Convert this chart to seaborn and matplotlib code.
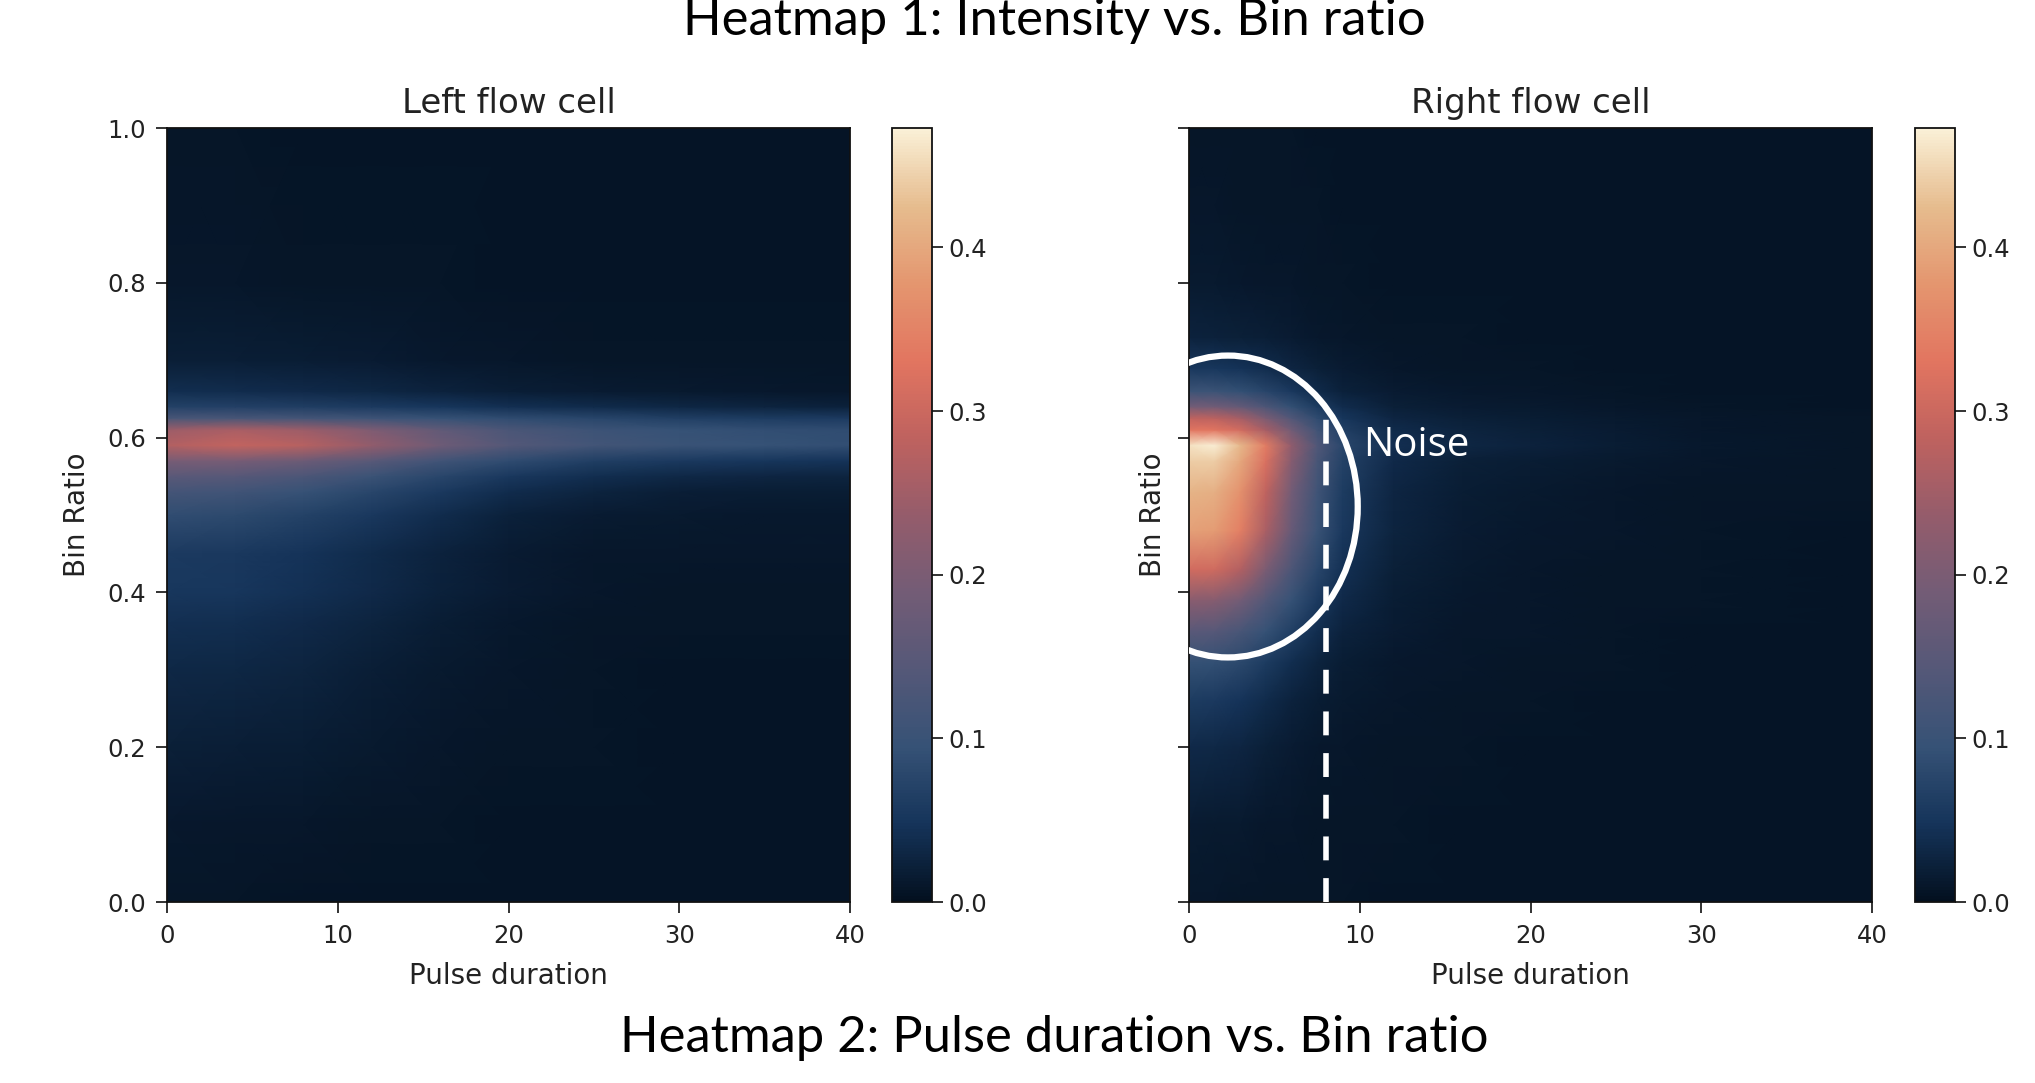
import numpy as np
import matplotlib
matplotlib.use("Agg")
import matplotlib.pyplot as plt
from matplotlib.patches import Ellipse
import seaborn as sns

# ---------------- data ----------------
# Left flow cell: pulse-duration grid (x) and bin-ratio grid (y)
left_x = [0, 4, 8, 12, 16, 20, 25, 30, 35, 40]
left_y = [0.0, 0.1, 0.2, 0.3, 0.36, 0.4, 0.45, 0.5, 0.53, 0.55, 0.57,
          0.59, 0.61, 0.625, 0.64, 0.66, 0.7, 0.8, 1.0]
left_z = [
    [0.008, 0.008, 0.007, 0.007, 0.006, 0.006, 0.006, 0.006, 0.006, 0.006],
    [0.012, 0.011, 0.010, 0.009, 0.008, 0.007, 0.007, 0.006, 0.006, 0.006],
    [0.022, 0.020, 0.017, 0.014, 0.011, 0.009, 0.008, 0.007, 0.007, 0.007],
    [0.032, 0.030, 0.026, 0.020, 0.014, 0.010, 0.008, 0.007, 0.007, 0.007],
    [0.042, 0.040, 0.034, 0.026, 0.018, 0.012, 0.009, 0.008, 0.008, 0.008],
    [0.052, 0.050, 0.044, 0.034, 0.023, 0.015, 0.010, 0.009, 0.009, 0.009],
    [0.058, 0.055, 0.047, 0.036, 0.025, 0.016, 0.011, 0.010, 0.010, 0.010],
    [0.088, 0.083, 0.070, 0.054, 0.037, 0.024, 0.016, 0.013, 0.012, 0.012],
    [0.118, 0.112, 0.097, 0.077, 0.056, 0.038, 0.026, 0.020, 0.018, 0.018],
    [0.150, 0.145, 0.128, 0.102, 0.076, 0.055, 0.040, 0.032, 0.028, 0.026],
    [0.195, 0.195, 0.178, 0.148, 0.112, 0.086, 0.066, 0.056, 0.050, 0.048],
    [0.270, 0.290, 0.275, 0.232, 0.182, 0.142, 0.116, 0.100, 0.095, 0.090],
    [0.245, 0.260, 0.245, 0.205, 0.162, 0.127, 0.106, 0.095, 0.090, 0.085],
    [0.125, 0.125, 0.118, 0.108, 0.097, 0.086, 0.076, 0.066, 0.060, 0.058],
    [0.070, 0.068, 0.064, 0.058, 0.050, 0.042, 0.036, 0.030, 0.026, 0.024],
    [0.040, 0.038, 0.035, 0.030, 0.025, 0.020, 0.016, 0.013, 0.012, 0.011],
    [0.020, 0.019, 0.017, 0.015, 0.012, 0.010, 0.009, 0.008, 0.008, 0.008],
    [0.010, 0.010, 0.009, 0.008, 0.008, 0.007, 0.007, 0.006, 0.006, 0.006],
    [0.008, 0.008, 0.007, 0.007, 0.006, 0.006, 0.006, 0.006, 0.006, 0.006],
]

# Right flow cell
right_x = [0, 1.5, 3, 4.5, 6, 7.5, 9, 12, 16, 20, 25, 30, 40]
right_y = [0.0, 0.1, 0.2, 0.26, 0.31, 0.35, 0.39, 0.43, 0.48, 0.53, 0.57,
           0.59, 0.61, 0.625, 0.64, 0.66, 0.69, 0.73, 0.8, 0.9, 1.0]
right_z = [
    [0.010, 0.010, 0.009, 0.009, 0.008, 0.008, 0.008, 0.007, 0.007, 0.007, 0.006, 0.006, 0.006],
    [0.015, 0.014, 0.013, 0.011, 0.010, 0.009, 0.008, 0.008, 0.007, 0.007, 0.006, 0.006, 0.006],
    [0.035, 0.033, 0.028, 0.022, 0.016, 0.012, 0.010, 0.009, 0.008, 0.007, 0.007, 0.006, 0.006],
    [0.060, 0.057, 0.048, 0.036, 0.025, 0.017, 0.013, 0.010, 0.009, 0.008, 0.007, 0.007, 0.006],
    [0.095, 0.092, 0.080, 0.060, 0.040, 0.026, 0.018, 0.012, 0.010, 0.009, 0.008, 0.007, 0.007],
    [0.150, 0.145, 0.125, 0.095, 0.065, 0.040, 0.025, 0.015, 0.011, 0.010, 0.008, 0.007, 0.007],
    [0.220, 0.215, 0.190, 0.140, 0.095, 0.058, 0.034, 0.018, 0.012, 0.010, 0.009, 0.008, 0.007],
    [0.310, 0.305, 0.270, 0.200, 0.130, 0.078, 0.044, 0.022, 0.014, 0.011, 0.009, 0.008, 0.007],
    [0.390, 0.385, 0.345, 0.260, 0.170, 0.100, 0.055, 0.026, 0.016, 0.012, 0.010, 0.008, 0.007],
    [0.415, 0.410, 0.370, 0.285, 0.190, 0.110, 0.060, 0.028, 0.017, 0.013, 0.010, 0.009, 0.008],
    [0.440, 0.440, 0.400, 0.320, 0.215, 0.125, 0.070, 0.034, 0.022, 0.017, 0.013, 0.010, 0.008],
    [0.460, 0.470, 0.420, 0.340, 0.230, 0.135, 0.078, 0.042, 0.030, 0.025, 0.018, 0.012, 0.009],
    [0.330, 0.330, 0.310, 0.255, 0.185, 0.112, 0.066, 0.036, 0.026, 0.022, 0.016, 0.011, 0.008],
    [0.285, 0.280, 0.255, 0.200, 0.138, 0.085, 0.050, 0.029, 0.021, 0.017, 0.013, 0.010, 0.008],
    [0.190, 0.185, 0.165, 0.130, 0.092, 0.060, 0.037, 0.022, 0.016, 0.013, 0.010, 0.008, 0.007],
    [0.105, 0.102, 0.092, 0.074, 0.054, 0.036, 0.024, 0.016, 0.012, 0.010, 0.008, 0.007, 0.007],
    [0.052, 0.050, 0.046, 0.038, 0.028, 0.021, 0.015, 0.011, 0.009, 0.008, 0.007, 0.007, 0.006],
    [0.025, 0.024, 0.022, 0.019, 0.015, 0.012, 0.010, 0.008, 0.008, 0.007, 0.007, 0.006, 0.006],
    [0.013, 0.013, 0.012, 0.011, 0.010, 0.009, 0.008, 0.007, 0.007, 0.006, 0.006, 0.006, 0.006],
    [0.010, 0.010, 0.009, 0.009, 0.008, 0.008, 0.007, 0.007, 0.006, 0.006, 0.006, 0.006, 0.006],
    [0.009, 0.009, 0.009, 0.008, 0.008, 0.007, 0.007, 0.006, 0.006, 0.006, 0.006, 0.006, 0.006],
]

x_ticks = [0, 10, 20, 30, 40]
y_ticks = [0.0, 0.2, 0.4, 0.6, 0.8, 1.0]
cbar_ticks = [0.0, 0.1, 0.2, 0.3, 0.4]
vmax = 0.473
panel_titles = ["Left flow cell", "Right flow cell"]
cmap_colors = ["#03101f", "#15345a", "#365276", "#555878", "#735c76", "#955c6b",
               "#bf625f", "#e27560", "#e4966f", "#e6bc8e", "#faf0d7"]

# ---------------- style ----------------
sns.set_style("ticks")
plt.rcParams["font.family"] = ["DejaVu Sans"]
cmap = sns.blend_palette(cmap_colors, as_cmap=True)

fig = plt.figure(figsize=(20.35, 10.83), dpi=100)
fig.patch.set_facecolor("white")

ax_w = 0.3356
ax_b = 0.1671
ax_h = 0.7147
axes_pos = [0.0821, 0.5843]
cax_pos = [0.4383, 0.9410]
cax_w = 0.0195

tick_fs = 17.5
label_fs = 20
title_fs = 24.5

datasets = [(left_x, left_y, left_z), (right_x, right_y, right_z)]
axes = []
for i, (xs, ys, zs) in enumerate(datasets):
    ax = fig.add_axes([axes_pos[i], ax_b, ax_w, ax_h])
    X, Y = np.meshgrid(np.asarray(xs, float), np.asarray(ys, float))
    mesh = ax.pcolormesh(X, Y, np.asarray(zs, float), shading="gouraud",
                         cmap=cmap, vmin=0.0, vmax=vmax, rasterized=True)
    ax.set_xlim(0, 40)
    ax.set_ylim(0, 1.0)
    ax.set_xticks(x_ticks)
    ax.set_yticks(y_ticks)
    if i == 0:
        ax.set_yticklabels([f"{v:.1f}" for v in y_ticks])
    else:
        ax.set_yticklabels([])
    ax.set_xlabel("Pulse duration", fontsize=label_fs, color="#222222", labelpad=10)
    ax.set_ylabel("Bin Ratio", fontsize=label_fs, color="#222222",
                  labelpad=(12 if i == 0 else 1))
    ax.set_title(panel_titles[i], fontsize=title_fs, color="#222222", pad=11)
    ax.tick_params(axis="x", labelsize=tick_fs, length=8, width=1.3,
                   colors="#222222", direction="out", pad=8)
    ax.tick_params(axis="y", labelsize=tick_fs, length=8, width=1.3,
                   colors="#222222", direction="out", pad=7)
    for sp in ax.spines.values():
        sp.set_visible(True)
        sp.set_linewidth(1.3)
        sp.set_color("#111111")
    cax = fig.add_axes([cax_pos[i], ax_b, cax_w, ax_h])
    cb = fig.colorbar(mesh, cax=cax, ticks=cbar_ticks)
    cb.ax.set_yticklabels([f"{v:.1f}" for v in cbar_ticks])
    cb.ax.tick_params(labelsize=tick_fs, length=8, width=1.3, colors="#222222", pad=4)
    cb.outline.set_linewidth(1.3)
    cb.outline.set_edgecolor("#111111")
    axes.append(ax)

# ---------------- annotations on right panel ----------------
axr = axes[1]
axr.add_patch(Ellipse((2.28, 0.511), width=15.2, height=0.39, fill=False,
                      edgecolor="white", linewidth=4.5, zorder=5))
axr.plot([8, 8], [0.0, 0.626], color="white", linewidth=4.0,
         linestyle=(0, (4.3, 3.2)), zorder=5)
axr.text(10.2, 0.589, "Noise", color="white", fontsize=29,
         family=["Open Sans", "DejaVu Sans"], ha="left", va="center", zorder=6)

# ---------------- figure-level captions ----------------
fig.text(0.518, 0.9806, "Heatmap 1: Intensity vs. Bin ratio", ha="center",
         va="center", fontsize=36.5, family=["Lato", "DejaVu Sans"],
         fontweight="normal", color="black")
fig.text(0.518, 0.0415, "Heatmap 2: Pulse duration vs. Bin ratio", ha="center",
         va="center", fontsize=36.5, family=["Lato", "DejaVu Sans"],
         fontweight="normal", color="black")

fig.savefig("out.png", dpi=100, facecolor="white")
